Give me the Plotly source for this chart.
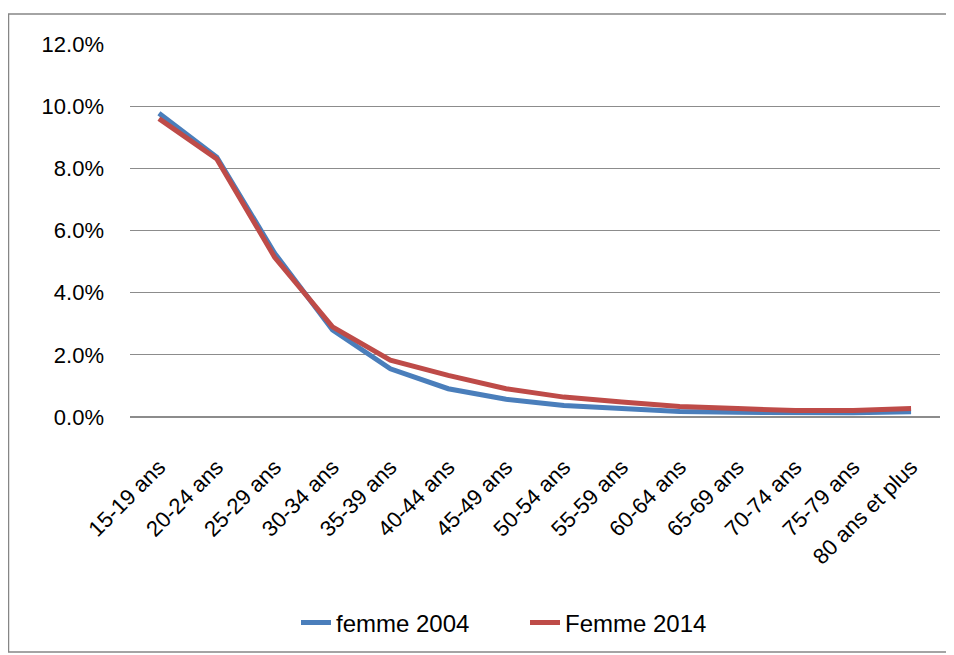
import plotly.graph_objects as go

categories = ["15-19 ans", "20-24 ans", "25-29 ans", "30-34 ans", "35-39 ans", "40-44 ans",
              "45-49 ans", "50-54 ans", "55-59 ans", "60-64 ans", "65-69 ans", "70-74 ans",
              "75-79 ans", "80 ans et plus"]
femme_2004 = [0.0977, 0.0836, 0.0527, 0.0280, 0.0155, 0.0091, 0.0057, 0.0037, 0.0027,
              0.0018, 0.0015, 0.0013, 0.0014, 0.0017]
femme_2014 = [0.0960, 0.0830, 0.0514, 0.0290, 0.0183, 0.0134, 0.0091, 0.0064, 0.0048,
              0.0034, 0.0027, 0.0021, 0.0021, 0.0027]
y_ticks = [0, 0.02, 0.04, 0.06, 0.08, 0.10, 0.12]

FONT = "Liberation Sans"
W, H = 954, 655
OFF = 8  # page body margin in the browser
# target screen positions of the plot area
sx0, sx1, sy0, sy1 = 130, 940, 44, 417
ml = sx0 - OFF
mt = sy0 - OFF
mr = W - (sx1 - OFF)
mb = H - (sy1 - OFF)
pw, ph = W - ml - mr, H - mt - mb

def px_x(p):
    return (p - OFF - ml) / pw

def px_y(p):
    return (H - mb - (p - OFF)) / ph

fig = go.Figure()
fig.add_trace(go.Scatter(x=categories, y=femme_2004, mode="lines", name="femme 2004",
                         line=dict(color="#4a7ebb", width=5)))
fig.add_trace(go.Scatter(x=categories, y=femme_2014, mode="lines", name="Femme 2014",
                         line=dict(color="#be4b48", width=5)))

fig.update_layout(
    width=W, height=H,
    margin=dict(l=ml, r=mr, t=mt, b=mb),
    paper_bgcolor="white", plot_bgcolor="white",
    font=dict(family=FONT, size=22, color="#000000"),
    showlegend=True,
    legend=dict(orientation="h", x=px_x(296), xanchor="left", y=px_y(623), yanchor="middle",
                font=dict(size=24), traceorder="normal",
                entrywidth=184, entrywidthmode="pixels"),
    xaxis=dict(type="category", tickangle=-45, showgrid=False, showline=False,
               ticks="", tickfont=dict(size=22), range=[-0.5, len(categories) - 0.5],
               ticklabelstandoff=32),
    yaxis=dict(range=[0, 0.12], tickvals=y_ticks, tickformat=".1%", showgrid=True,
               gridcolor="#8c8c8c", gridwidth=1.3, zeroline=True, zerolinecolor="#8c8c8c",
               zerolinewidth=1.5, showline=False, ticks="", tickfont=dict(size=22),
               ticklabelstandoff=25),
    shapes=[dict(type="rect", xref="paper", yref="paper",
                 x0=px_x(OFF + 0.5), x1=px_x(W + 30), y0=px_y(652), y1=px_y(14),
                 line=dict(color="#868686", width=1.5), fillcolor="rgba(0,0,0,0)", layer="below")],
)

fig.write_html("out.html")
